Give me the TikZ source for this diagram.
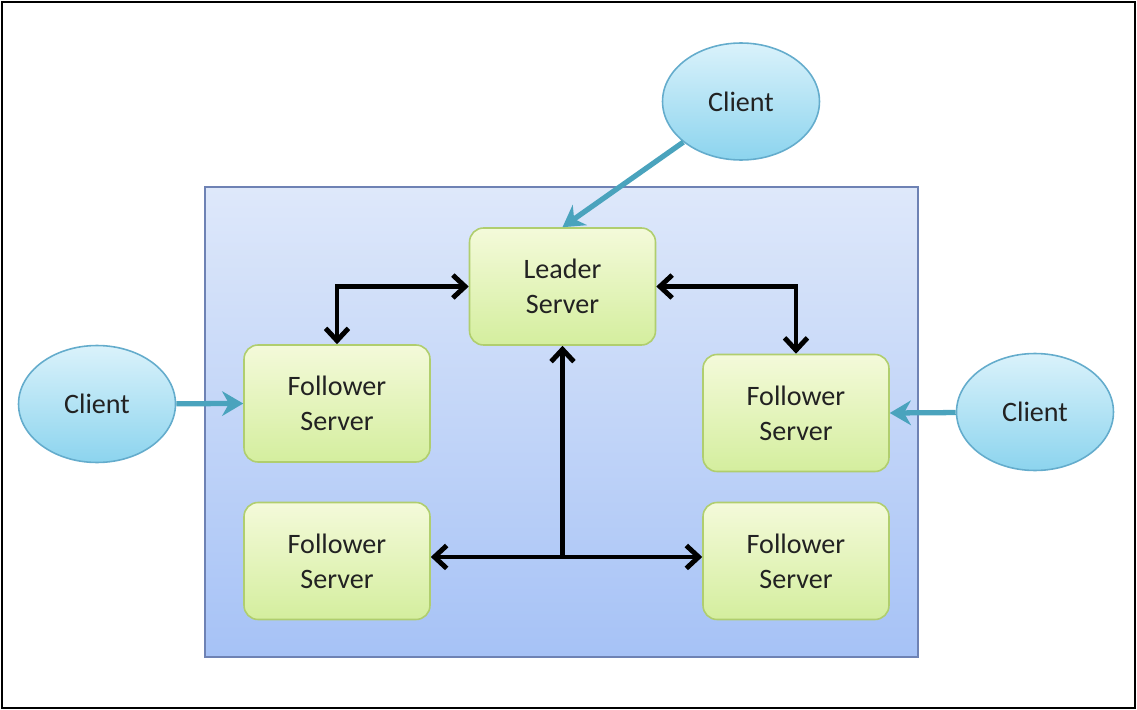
\documentclass[tikz,border=0pt]{standalone}
\usepackage{fontspec}
\setmainfont{Carlito}
\usepackage{tikz}
\usetikzlibrary{arrows.meta,positioning,shapes.geometric}
\definecolor{boxtop}{RGB}{222,232,250}
\definecolor{boxbot}{RGB}{166,194,246}
\definecolor{boxline}{RGB}{110,130,180}
\definecolor{srvtop}{RGB}{244,250,218}
\definecolor{srvbot}{RGB}{212,238,158}
\definecolor{srvline}{RGB}{176,206,110}
\definecolor{clitop}{RGB}{218,242,251}
\definecolor{clibot}{RGB}{140,212,238}
\definecolor{cliline}{RGB}{100,172,204}
\definecolor{teal}{RGB}{74,163,189}
\definecolor{txt}{RGB}{34,34,34}

\tikzset{
  server/.style={draw=srvline,line width=0.9pt,rounded corners=0.28cm,
    top color=srvtop,bottom color=srvbot,minimum width=3.72cm,minimum height=2.34cm,
    align=center,font=\fontsize{16}{20}\selectfont,text=txt},
  client/.style={ellipse,draw=cliline,line width=0.9pt,top color=clitop,bottom color=clibot,
    minimum width=3.14cm,minimum height=2.34cm,inner sep=0pt,
    font=\fontsize{16}{20}\selectfont,text=txt},
  clientarrow/.style={draw=teal,line width=3pt,-{Stealth[length=12pt,width=14pt]}},
  link/.style={line width=2.8pt,black,{Straight Barb[length=7pt,width=13pt]}-{Straight Barb[length=7pt,width=13pt]}}
}

\begin{document}
\begin{tikzpicture}[x=0.02cm,y=-0.02cm]
  \useasboundingbox (0,0) rectangle (1137,710);

  % outer frame
  \draw[line width=1.2pt] (2,2) rectangle (1135,708);

  % ensemble box
  \shade[top color=boxtop,bottom color=boxbot] (205,187) rectangle (918,657);
  \draw[boxline,line width=0.8pt] (205,187) rectangle (918,657);

  % servers
  \node[server] (leader) at (562.5,286.5) {Leader\\Server};
  \node[server] (ftl) at (337,403.5) {Follower\\Server};
  \node[server] (ftr) at (796,413) {Follower\\Server};
  \node[server] (fbl) at (337,561) {Follower\\Server};
  \node[server] (fbr) at (796,561) {Follower\\Server};

  % clients
  \node[client] (ctop) at (741,101.5) {Client};
  \node[client] (cleft) at (97,404) {Client};
  \node[client] (cright) at (1035,412) {Client};

  % leader <-> followers
  \draw[link] (leader.west) -| (ftl.north);
  \draw[link] (leader.east) -| (ftr.north);
  \draw[line width=2.8pt,-{Straight Barb[length=7pt,width=13pt]}] ([yshift=2.3pt]fbl.east -| leader.south) -- (leader.south);
  \draw[link] ([yshift=2.3pt]fbl.east) -- ([yshift=2.3pt]fbr.west);

  % client requests
  \draw[clientarrow] (ctop) -- (leader.north);
  \draw[clientarrow] (cleft) -- (ftl.west);
  \draw[clientarrow] (cright) -- (ftr.east);
\end{tikzpicture}
\end{document}
